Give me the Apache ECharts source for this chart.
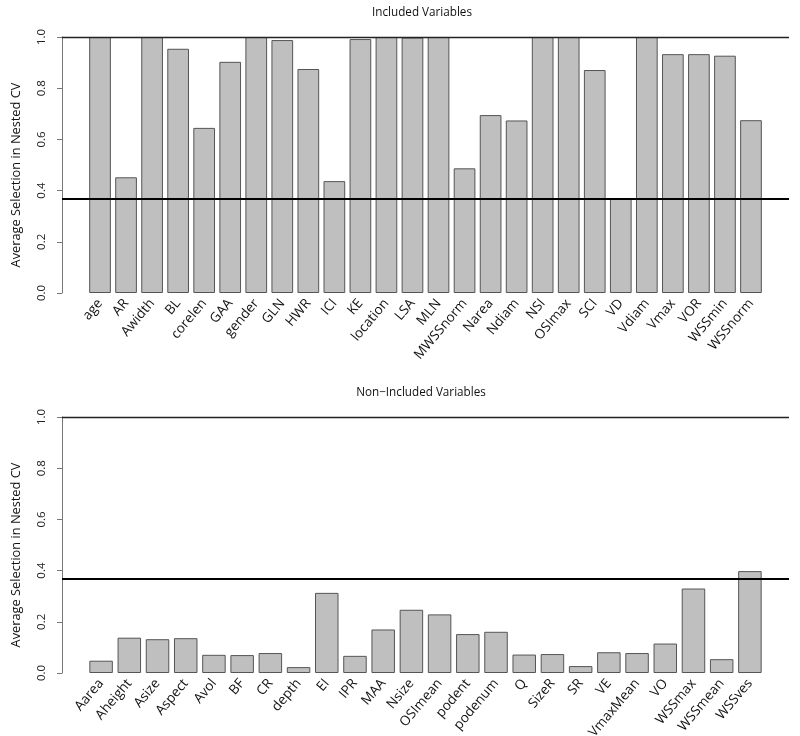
<!DOCTYPE html>
<html>
<head>
<meta charset="utf-8">
<script src="https://cdn.jsdelivr.net/npm/echarts@6/dist/echarts.min.js"></script>
<style>html,body{margin:0;padding:0;background:#fff;}#c{width:800px;height:736px;}</style>
</head>
<body>
<div id="c"></div>
<script>
var topTitle = 'Included Variables';
var bottomTitle = 'Non\u2212Included Variables';
var yAxisTitle = 'Average Selection in Nested CV';
var topCategories = ['age','AR','Awidth','BL','corelen','GAA','gender','GLN','HWR','ICI','KE','location','LSA','MLN','MWSSnorm','Narea','Ndiam','NSI','OSImax','SCI','VD','Vdiam','Vmax','VOR','WSSmin','WSSnorm'];
var topValues = [1.0,0.452,1.0,0.954,0.645,0.903,1.0,0.988,0.875,0.437,0.992,1.0,0.998,1.0,0.487,0.695,0.674,1.0,1.0,0.871,0.371,1.0,0.933,0.933,0.927,0.675];
var bottomCategories = ['Aarea','Aheight','Asize','Aspect','Avol','BF','CR','depth','EI','IPR','MAA','Nsize','OSImean','podent','podenum','Q','SizeR','SR','VE','VmaxMean','VO','WSSmax','WSSmean','WSSves'];
var bottomValues = [0.048,0.138,0.132,0.136,0.071,0.070,0.078,0.023,0.313,0.067,0.170,0.247,0.229,0.152,0.161,0.072,0.074,0.027,0.081,0.078,0.115,0.330,0.054,0.398];
var threshold = 0.371;
var upperLine = 1.0;
var yTickLabels = ['0.0','0.2','0.4','0.6','0.8','1.0'];

var FONT = 'Open Sans';
var chart = echarts.init(document.getElementById('c'), null, {renderer: 'canvas'});

function barX(gi, cats) {
  return {
    type: 'category', gridIndex: gi, data: cats,
    axisLine: {show: false}, axisTick: {show: false},
    axisLabel: {interval: 0, rotate: 50, margin: 8, fontFamily: FONT, fontSize: 13.5, color: '#111'}
  };
}
function barY(gi) {
  return {type: 'value', gridIndex: gi, min: 0, max: 1, show: false, splitLine: {show: false}};
}
function lineX(gi) {
  return {type: 'value', gridIndex: gi, min: 0, max: 1, show: false, splitLine: {show: false}};
}
function lineY(gi) {
  return {
    type: 'value', gridIndex: gi, min: 0, max: 1, interval: 0.2,
    axisLine: {show: true, lineStyle: {color: '#777', width: 1}},
    axisTick: {show: true, length: 5, inside: false, lineStyle: {color: '#777'}},
    splitLine: {show: false},
    axisLabel: {rotate: 90, margin: 14, fontFamily: FONT, fontSize: 11.5, color: '#222',
      formatter: function (v) { return yTickLabels[Math.round(v / 0.2)]; }}
  };
}
function barSeries(gi, vals) {
  return {
    type: 'bar', xAxisIndex: gi, yAxisIndex: gi, data: vals, barWidth: '83.3%',
    itemStyle: {color: '#bfbfbf', borderColor: '#555', borderWidth: 1},
    silent: true, z: 2
  };
}
function refSeries(gi) {
  return {
    type: 'line', xAxisIndex: gi, yAxisIndex: gi, data: [], z: 5,
    markLine: {
      symbol: 'none', silent: true, animation: false, label: {show: false},
      data: [
        {yAxis: upperLine, lineStyle: {color: '#222', width: 1.4, type: 'solid'}},
        {yAxis: threshold, lineStyle: {color: '#000', width: 2.2, type: 'solid'}}
      ]
    }
  };
}
function yTitle(cy) {
  return {
    type: 'text', x: 16, y: cy, rotation: Math.PI / 2, silent: true,
    style: {text: yAxisTitle, fontFamily: FONT, fontSize: 12.8, fill: '#111', align: 'center', verticalAlign: 'middle'}
  };
}
function grid(left, right, top) {
  return {left: left, right: right, top: top, height: 256, containLabel: false, outerBoundsMode: 'none'};
}

chart.setOption({
  animation: false,
  backgroundColor: '#fff',
  title: [
    {text: topTitle, left: 417, textAlign: 'center', top: 2, textStyle: {fontFamily: FONT, fontSize: 11.7, fontWeight: 'normal', color: '#111'}},
    {text: bottomTitle, left: 416, textAlign: 'center', top: 382, textStyle: {fontFamily: FONT, fontSize: 11.7, fontWeight: 'normal', color: '#111'}}
  ],
  graphic: [yTitle(175), yTitle(555)],
  grid: [grid(87, 36, 37), grid(62, 11, 37), grid(87, 36, 417), grid(62, 11, 417)],
  xAxis: [barX(0, topCategories), lineX(1), barX(2, bottomCategories), lineX(3)],
  yAxis: [barY(0), lineY(1), barY(2), lineY(3)],
  series: [barSeries(0, topValues), refSeries(1), barSeries(2, bottomValues), refSeries(3)]
});
</script>
</body>
</html>
